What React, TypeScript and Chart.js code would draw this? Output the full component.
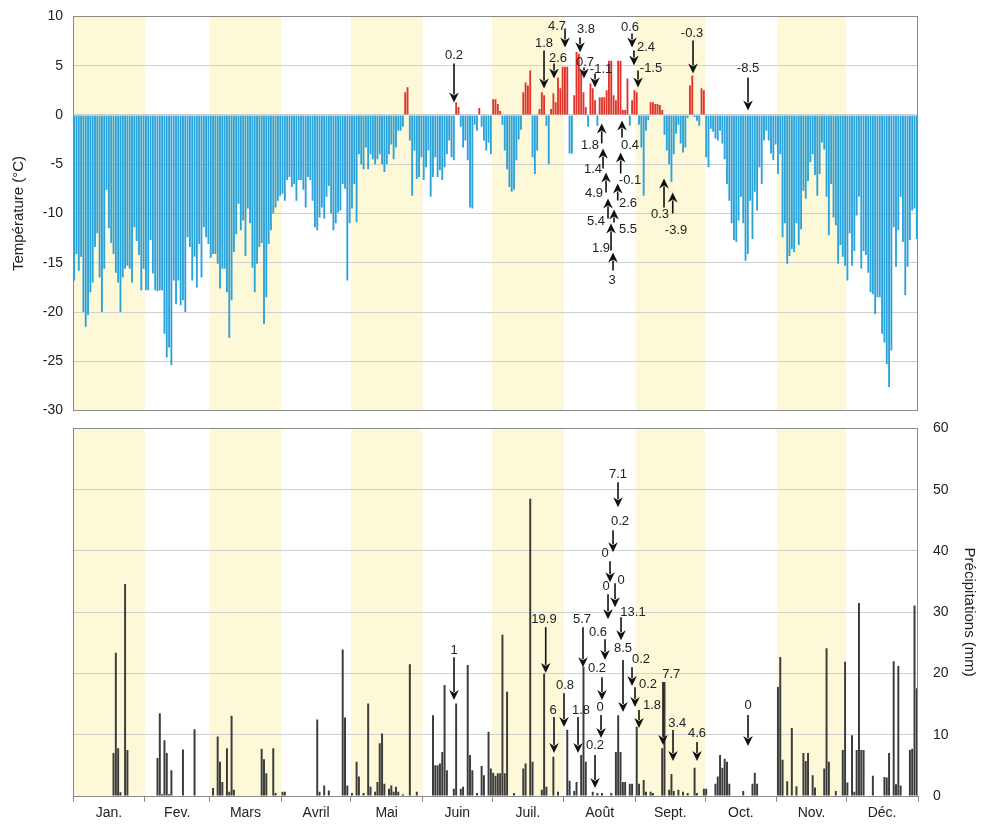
import React, { useEffect, useRef } from 'react';
import { Chart, registerables } from 'chart.js';

Chart.register(...registerables);

const FONT = '"Liberation Sans", Arial, sans-serif';
Chart.defaults.font.family = FONT;

const MONTHS = ['Jan.', 'Fev.', 'Mars', 'Avril', 'Mai', 'Juin', 'Juil.', 'Août', 'Sept.', 'Oct.', 'Nov.', 'Déc.'];
const MONTH_DAYS = [31, 28, 31, 30, 31, 30, 31, 31, 30, 31, 30, 31];
const SHADED = [true, false, true, false, true, false, true, false, true, false, true, false];

// Daily temperature (°C) per month
const tJan = [-16.8, -14.1, -15.8, -14.4, -20, -21.5, -20.3, -18, -17, -13.4, -12, -16.5, -20, -15.6, -7.6, -11.5, -13, -14.1, -16, -17, -20, -16.5, -15.6, -15.3, -15.6, -17, -11.4, -12.8, -14.2, -17.8, -15.6];
const tFeb = [-17.8, -17.8, -12.7, -16.1, -17.8, -17.9, -17.8, -17.8, -22.2, -24.6, -23.6, -25.4, -16.8, -19.2, -16.8, -19.3, -18.8, -20, -12.4, -13.4, -16.8, -14.4, -17.5, -13.1, -16.5, -11.4, -12.4, -13.1];
const tMar = [-14.5, -14.1, -14.1, -15.1, -17.6, -15.6, -15.6, -18, -22.6, -18.8, -13.9, -12.1, -9, -11.7, -10.7, -14.3, -9.5, -11, -15.5, -18, -15.1, -13.4, -13, -21.2, -18.5, -13.1, -11.7, -10, -9.4, -8.7, -8.2];
const tApr = [-8, -8.7, -6.6, -6.3, -7.3, -7, -8.7, -6.6, -6.6, -7.6, -9.4, -6.3, -6.6, -8.7, -11.4, -11.7, -10.4, -9.4, -10.5, -8.3, -7.2, -10, -11.7, -11, -9.9, -9.7, -7, -7.5, -16.8, -11];
const tMay = [-9.5, -7, -10.9, -4, -5, -5.5, -3.3, -5.5, -4, -4.5, -5, -4.5, -4, -5, -5.8, -5, -4, -3, -4.5, -3.3, -1.6, -1.6, -1.2, 2.3, 2.8, -2.6, -8.2, -3.6, -6.5, -6.3, -4.3];
const tJun = [-6.6, -5.3, -3.6, -8.3, -6.3, -4.3, -6.3, -5.6, -6.6, -5.3, -4, -2.6, -4.3, -4.6, 1.3, 0.8, -1.2, -3.3, -2.6, -4.6, -9.4, -9.5, -1, -1.6, 0.7, -1.2, -2.6, -3.6, -2.8, -4];
const tJul = [1.6, 1.6, 1.1, 0.4, -1, -3.6, -5.5, -7.3, -7.8, -7.6, -4.6, -2.5, -1.5, 2.3, 3.3, 3, 4.5, -4.3, -6, -3.6, 0.6, 2.3, 2, -1.1, -5, 0.6, 2.2, 1.3, 3.8, 2.7, 4.9];
const tAug = [4.9, 4.9, -3.9, -3.9, 2.0, 6.4, 6.2, 4.5, 2.3, 0.8, -1.2, 3.2, 2.7, 1.5, -1.1, 1.8, 1.8, 1.8, 2.5, 5.5, 5.5, 2, 1.5, 5.5, 5.5, 0.5, 0.5, 3.7, -1.1, 1.5, 2.5];
const tSep = [2.3, -1, -3.3, -8.2, -1.6, -0.5, 1.3, 1.3, 1.1, 1.1, 1, 0.5, -2, -3.6, -5, -6.8, -4, -1.9, -1, -2.9, -3.8, -3.3, -0.3, 3, 4, -0.2, -0.6, -1.1, 2.7, 2.5];
const tOct = [-4.3, -5.3, -1.4, -1.7, -2.4, -2.6, -1.6, -2.9, -4.5, -7, -8.7, -11, -12.7, -12.9, -10.7, -8.3, -11, -14.8, -14.1, -8.7, -12.6, -7.8, -9.7, -5.3, -7, -2.6, -1.6, -2.6, -3.9, -4.6, -3];
const tNov = [-6, -4, -12.4, -11, -15.1, -14.3, -13.6, -13.9, -11, -13.2, -11.6, -7.7, -8.5, -6.7, -4.8, -4, -6.1, -8.2, -6, -2.8, -3.5, -8.3, -12.2, -7, -10.4, -11.2, -15.1, -13.2, -14.4, -15.3];
const tDec = [-16.8, -12, -15.3, -13.8, -10.2, -8.3, -15.6, -13.8, -14.2, -16, -18, -18.2, -20.2, -18.5, -18.5, -22.2, -23.1, -25.3, -27.6, -23.9, -11.4, -15.4, -11.7, -8.3, -12.9, -18.3, -15.4, -12.7, -9.7, -9.5, -12.6];

// Daily precipitation (mm) per month
const pJan = [0, 0, 0, 0, 0, 0, 0, 0, 0, 0, 0, 0, 0, 0, 0, 0, 0, 7, 23.4, 7.8, 0.6, 0, 34.6, 7.5, 0, 0, 0, 0, 0, 0, 0];
const pFeb = [0, 0, 0, 0, 0, 6.2, 13.5, 0.3, 9.1, 7, 0.3, 4.2, 0, 0, 0, 0, 7.6, 0, 0, 0, 0, 10.9, 0, 0, 0, 0, 0, 0];
const pMar = [0, 1.3, 0, 9.7, 5.6, 2.3, 0, 7.8, 0.7, 13.1, 1, 0, 0, 0, 0, 0, 0, 0, 0, 0, 0, 0, 7.7, 6, 3.7, 0, 0, 7.8, 0.5, 0, 0];
const pApr = [0.7, 0.7, 0, 0, 0, 0, 0, 0, 0, 0, 0, 0, 0, 0, 0, 12.5, 0.7, 0, 1.7, 0, 0.9, 0, 0, 0, 0, 0, 23.9, 12.8, 1.7, 0];
const pMay = [0.5, 0, 5.6, 3.2, 0, 0.5, 0, 15.1, 1.5, 0, 0.7, 2.3, 8.6, 10.2, 2, 0, 1.2, 1.7, 0.7, 1.5, 0.7, 0, 0.3, 0, 0, 21.5, 0, 0, 0.7, 0, 0];
const pJun = [0, 0, 0, 0, 13.2, 5, 5, 5.3, 7.2, 18.1, 4.2, 0, 0, 1.2, 15.1, 0, 1.2, 1.5, 0, 21.4, 6.7, 4.2, 0, 0.5, 0, 4.9, 3.4, 0, 10.5, 4.5];
const pJul = [3.8, 3.3, 3.7, 3.7, 26.3, 3.7, 17, 0, 0, 0.5, 0, 0, 0, 4.5, 5.3, 0, 48.5, 5.6, 0, 0, 0, 1, 20, 1.5, 0, 0, 6.4, 0, 0.7, 0, 0];
const pAug = [0, 10.8, 2.5, 0, 0.8, 2.3, 0, 6.7, 21.1, 5.6, 0, 0, 0.7, 0, 0.5, 0, 0.5, 0, 0, 0, 0.5, 0, 7.2, 13.2, 7.2, 2.3, 2.3, 0, 2, 2, 0];
const pSep = [11.3, 2, 0, 2.6, 0.7, 0, 0.7, 0.5, 0, 0, 0, 7.8, 18.6, 0, 1, 3.6, 0.8, 0, 1, 0, 0.7, 0, 0.5, 0, 0, 4.6, 0.5, 0, 0, 1.2];
const pOct = [1.2, 0, 0, 0, 2, 3.2, 6.7, 4.6, 6.1, 5.6, 2, 0, 0, 0, 0, 0, 0.8, 0, 0, 0, 2, 3.8, 2, 0, 0, 0, 0, 0, 0, 0, 0];
const pNov = [17.8, 22.7, 5.9, 0, 2.4, 0, 11.1, 0, 1.6, 0, 0, 7, 5.7, 7, 0, 3.4, 1.4, 0, 0, 0, 4.5, 24.1, 5.6, 0, 0, 0.8, 0, 0, 7.5, 21.9];
const pDec = [2.2, 0, 9.9, 0.7, 7.5, 31.5, 7.5, 7.5, 0, 0, 0, 3.3, 0, 0, 0, 0, 3.1, 3, 7, 0, 22, 1.9, 21.2, 1.7, 0, 0, 0, 7.5, 7.7, 31.1, 17.6];

const TEMPERATURE = [...tJan, ...tFeb, ...tMar, ...tApr, ...tMay, ...tJun, ...tJul, ...tAug, ...tSep, ...tOct, ...tNov, ...tDec];
const PRECIP = [...pJan, ...pFeb, ...pMar, ...pApr, ...pMay, ...pJun, ...pJul, ...pAug, ...pSep, ...pOct, ...pNov, ...pDec];

// Annotation arrows: day (x), from (tail value), to (tip value), label and label anchor (day, value)
type Arrow = { day: number; from: number; to: number; label: string; lx: number; ly: number };

const TEMP_ARROWS: Arrow[] = [
  { day: 164.08, from: 5.23, to: 1.27, label: '0.2', lx: 164.08, ly: 6.04 },
  { day: 202.96, from: 6.55, to: 2.69, label: '1.8', lx: 202.96, ly: 7.26 },
  { day: 207.28, from: 5.23, to: 3.71, label: '2.6', lx: 209.0, ly: 5.74 },
  { day: 212.03, from: 8.78, to: 6.85, label: '4.7', lx: 208.57, ly: 8.98 },
  { day: 218.51, from: 7.87, to: 6.35, label: '3.8', lx: 221.1, ly: 8.68 },
  { day: 220.23, from: 4.82, to: 3.71, label: '0.7', lx: 220.66, ly: 5.33 },
  { day: 224.99, from: 4.21, to: 2.79, label: '-1.1', lx: 227.58, ly: 4.62 },
  { day: 240.97, from: 8.27, to: 6.85, label: '0.6', lx: 240.1, ly: 8.88 },
  { day: 241.83, from: 6.55, to: 5.03, label: '2.4', lx: 247.01, ly: 6.85 },
  { day: 243.56, from: 4.52, to: 2.79, label: '-1.5', lx: 249.17, ly: 4.72 },
  { day: 267.32, from: 7.56, to: 4.21, label: '-0.3', lx: 266.89, ly: 8.27 },
  { day: 291.08, from: 3.81, to: 0.46, label: '-8.5', lx: 291.08, ly: 4.72 },
  { day: 227.88, from: -2.89, to: -0.86, label: '1.8', lx: 222.83, ly: -3.1 },
  { day: 236.65, from: -2.28, to: -0.56, label: '0.4', lx: 240.1, ly: -3.1 },
  { day: 228.45, from: -5.43, to: -3.4, label: '1.4', lx: 224.12, ly: -5.53 },
  { day: 236.08, from: -5.94, to: -3.81, label: '-0.1', lx: 240.1, ly: -6.65 },
  { day: 229.75, from: -7.87, to: -5.84, label: '4.9', lx: 224.56, ly: -7.97 },
  { day: 234.79, from: -8.68, to: -6.95, label: '2.6', lx: 239.24, ly: -8.98 },
  { day: 230.6, from: -10.51, to: -8.48, label: '5.4', lx: 225.42, ly: -10.81 },
  { day: 233.2, from: -10.91, to: -9.59, label: '5.5', lx: 239.24, ly: -11.62 },
  { day: 231.9, from: -13.76, to: -11.02, label: '1.9', lx: 227.58, ly: -13.55 },
  { day: 232.76, from: -15.79, to: -13.96, label: '3', lx: 232.33, ly: -16.8 },
  { day: 254.79, from: -9.39, to: -6.45, label: '0.3', lx: 253.06, ly: -10.1 },
  { day: 258.55, from: -10.0, to: -7.87, label: '-3.9', lx: 259.98, ly: -11.73 },
];

const PRECIP_ARROWS: Arrow[] = [
  { day: 164.08, from: 22.66, to: 15.65, label: '1', lx: 164.08, ly: 23.81 },
  { day: 203.69, from: 27.56, to: 20.06, label: '19.9', lx: 202.96, ly: 28.86 },
  { day: 219.8, from: 27.56, to: 21.03, label: '5.7', lx: 219.37, ly: 28.86 },
  { day: 207.28, from: 12.88, to: 7.01, label: '6', lx: 206.84, ly: 14.02 },
  { day: 211.6, from: 16.79, to: 11.25, label: '0.8', lx: 212.03, ly: 18.1 },
  { day: 217.64, from: 12.88, to: 7.01, label: '1.8', lx: 218.94, ly: 14.02 },
  { day: 229.31, from: 25.6, to: 22.18, label: '0.6', lx: 226.28, ly: 26.74 },
  { day: 228.0, from: 19.4, to: 15.65, label: '0.2', lx: 225.85, ly: 20.87 },
  { day: 227.58, from: 13.21, to: 9.46, label: '0', lx: 227.15, ly: 14.51 },
  { day: 224.99, from: 6.69, to: 1.3, label: '0.2', lx: 224.99, ly: 8.32 },
  { day: 237.08, from: 22.18, to: 13.7, label: '8.5', lx: 237.08, ly: 24.13 },
  { day: 236.22, from: 29.19, to: 25.44, label: '13.1', lx: 241.4, ly: 30.0 },
  { day: 234.92, from: 51.2, to: 47.12, label: '7.1', lx: 234.92, ly: 52.5 },
  { day: 232.76, from: 43.37, to: 39.78, label: '0.2', lx: 235.79, ly: 44.84 },
  { day: 231.47, from: 38.32, to: 34.89, label: '0', lx: 229.31, ly: 39.62 },
  { day: 233.63, from: 34.73, to: 30.82, label: '0', lx: 236.22, ly: 35.22 },
  { day: 230.6, from: 32.94, to: 28.86, label: '0', lx: 229.74, ly: 34.24 },
  { day: 240.97, from: 21.03, to: 17.94, label: '0.2', lx: 244.86, ly: 22.34 },
  { day: 242.26, from: 17.77, to: 14.51, label: '0.2', lx: 247.88, ly: 18.26 },
  { day: 243.99, from: 14.02, to: 11.09, label: '1.8', lx: 249.61, ly: 14.84 },
  { day: 254.36, from: 18.59, to: 8.32, label: '7.7', lx: 257.92, ly: 19.89 },
  { day: 258.68, from: 10.76, to: 5.71, label: '3.4', lx: 260.49, ly: 11.9 },
  { day: 269.05, from: 8.8, to: 5.71, label: '4.6', lx: 269.05, ly: 10.27 },
  { day: 291.08, from: 13.21, to: 8.15, label: '0', lx: 291.08, ly: 14.84 },
];

const BLUE = '#2aa2da';
const RED = '#e2332a';
const DARK = '#3b3b3b';
const BAND = '#fcf8d8';
const GRID = '#cfcfcf';
const FRAME = '#8a8a8a';
const TEXT = '#222222';

const MONTH_STARTS = MONTH_DAYS.reduce<number[]>((acc, n, i) => {
  acc.push(i === 0 ? 0 : acc[i - 1] + MONTH_DAYS[i - 1]);
  return acc;
}, []);
const BOUNDARIES = [...MONTH_STARTS.map((s) => s - 0.5), 364.5];
const CENTERS = MONTH_STARTS.map((s, i) => s + MONTH_DAYS[i] / 2 - 0.5);

const bandsPlugin = {
  id: 'bands',
  beforeDraw(chart: any) {
    const { ctx, chartArea, scales } = chart;
    const x = scales.x;
    ctx.save();
    ctx.fillStyle = BAND;
    MONTH_STARTS.forEach((s, m) => {
      if (!SHADED[m]) return;
      const x0 = x.getPixelForValue(s - 0.5);
      const x1 = x.getPixelForValue(s + MONTH_DAYS[m] - 0.5);
      ctx.fillRect(x0, chartArea.top, x1 - x0, chartArea.bottom - chartArea.top);
    });
    ctx.restore();
  },
};

const framePlugin = {
  id: 'frame',
  afterDraw(chart: any) {
    const { ctx, chartArea } = chart;
    ctx.save();
    ctx.strokeStyle = FRAME;
    ctx.lineWidth = 1;
    ctx.strokeRect(
      Math.round(chartArea.left) + 0.5,
      Math.round(chartArea.top) + 0.5,
      Math.round(chartArea.right - chartArea.left) - 1,
      Math.round(chartArea.bottom - chartArea.top)
    );
    ctx.restore();
  },
};

function makeArrowPlugin(items: Arrow[], yId: string) {
  return {
    id: 'arrows-' + yId,
    afterDatasetsDraw(chart: any) {
      const { ctx, scales } = chart;
      const xs = scales.x;
      const ys = scales[yId];
      ctx.save();
      ctx.strokeStyle = '#111';
      ctx.fillStyle = '#111';
      ctx.lineWidth = 1.6;
      items.forEach((a) => {
        const x = xs.getPixelForValue(a.day);
        const y1 = ys.getPixelForValue(a.from);
        const y2 = ys.getPixelForValue(a.to);
        const dir = y2 > y1 ? 1 : -1;
        const head = 10;
        ctx.beginPath();
        ctx.moveTo(x, y1);
        ctx.lineTo(x, y2 - dir * (head - 2));
        ctx.stroke();
        ctx.beginPath();
        ctx.moveTo(x, y2);
        ctx.lineTo(x - 4.8, y2 - dir * head);
        ctx.lineTo(x, y2 - dir * (head - 3));
        ctx.lineTo(x + 4.8, y2 - dir * head);
        ctx.closePath();
        ctx.fill();
      });
      ctx.fillStyle = TEXT;
      ctx.font = '13px ' + FONT;
      ctx.textAlign = 'center';
      ctx.textBaseline = 'middle';
      items.forEach((a) => {
        ctx.fillText(a.label, xs.getPixelForValue(a.lx), ys.getPixelForValue(a.ly));
      });
      ctx.restore();
    },
  };
}

export default function App() {
  const topRef = useRef<HTMLCanvasElement | null>(null);
  const botRef = useRef<HTMLCanvasElement | null>(null);

  useEffect(() => {
    const tickFont = { size: 14, family: FONT };
    const top = new Chart(topRef.current as HTMLCanvasElement, {
      type: 'bar',
      data: {
        datasets: [
          {
            data: TEMPERATURE.map((v, i) => ({ x: i, y: v })),
            backgroundColor: TEMPERATURE.map((v) => (v > 0 ? RED : BLUE)),
            barPercentage: 0.8,
            categoryPercentage: 1,
            borderWidth: 0,
          } as any,
        ],
      },
      options: {
        responsive: false,
        animation: false,
        layout: { padding: { left: 0, right: 64, top: 14, bottom: 1 } },
        plugins: { legend: { display: false }, tooltip: { enabled: false } },
        scales: {
          x: {
            type: 'linear',
            min: -0.5,
            max: 364.5,
            offset: false,
            display: false,
            grid: { offset: false },
          },
          y: {
            min: -30,
            max: 10,
            ticks: { stepSize: 5, font: tickFont, color: TEXT, padding: 10 },
            grid: { color: GRID, drawTicks: false },
            border: { display: false },
            title: {
              display: true,
              text: 'Température (°C)',
              font: { size: 15, family: FONT },
              color: TEXT,
              padding: { top: 10, bottom: 0 },
            },
            afterFit: (s: any) => {
              s.width = 73;
            },
          },
        },
      } as any,
      plugins: [bandsPlugin, framePlugin, makeArrowPlugin(TEMP_ARROWS, 'y')],
    });

    const isBoundary = (v: number) => BOUNDARIES.some((b) => Math.abs(b - v) < 1e-6);
    const bottom = new Chart(botRef.current as HTMLCanvasElement, {
      type: 'bar',
      data: {
        datasets: [
          {
            data: PRECIP.map((v, i) => ({ x: i, y: v })),
            backgroundColor: DARK,
            barPercentage: 0.85,
            categoryPercentage: 1,
            borderWidth: 0,
            yAxisID: 'y',
          } as any,
        ],
      },
      options: {
        responsive: false,
        animation: false,
        layout: { padding: { left: 73, right: 0, top: 8, bottom: 0 } },
        plugins: { legend: { display: false }, tooltip: { enabled: false } },
        scales: {
          x: {
            type: 'linear',
            min: -0.5,
            max: 364.5,
            offset: false,
            border: { display: false },
            grid: {
              offset: false,
              drawOnChartArea: false,
              drawTicks: true,
              tickLength: 6,
              color: (c: any) => (c.tick && isBoundary(c.tick.value) ? FRAME : 'rgba(0,0,0,0)'),
              tickColor: (c: any) => (c.tick && isBoundary(c.tick.value) ? FRAME : 'rgba(0,0,0,0)'),
            },
            ticks: {
              autoSkip: false,
              maxRotation: 0,
              minRotation: 0,
              padding: 3,
              font: tickFont,
              color: TEXT,
              callback: (v: any) => {
                const idx = CENTERS.findIndex((c) => Math.abs(c - v) < 1e-6);
                return idx >= 0 ? MONTHS[idx] : '';
              },
            },
            afterBuildTicks: (axis: any) => {
              axis.ticks = [...BOUNDARIES, ...CENTERS].sort((a, b) => a - b).map((v) => ({ value: v }));
            },
            afterFit: (s: any) => {
              s.height = 29;
            },
          },
          y: {
            position: 'right',
            min: 0,
            max: 60,
            ticks: { stepSize: 10, font: tickFont, color: TEXT, padding: 15 },
            grid: { color: GRID, drawTicks: false },
            border: { display: false },
            title: {
              display: true,
              text: 'Précipitations (mm)',
              font: { size: 15, family: FONT },
              color: TEXT,
              padding: { top: 4, bottom: 0 },
            },
            afterFit: (s: any) => {
              s.width = 64;
            },
          },
        },
      } as any,
      plugins: [bandsPlugin, framePlugin, makeArrowPlugin(PRECIP_ARROWS, 'y')],
    });

    return () => {
      top.destroy();
      bottom.destroy();
    };
  }, []);

  return (
    <div style={{ position: 'absolute', left: 0, top: 0, width: 982, height: 825, background: '#fff' }}>
      <canvas ref={topRef} width={982} height={431} style={{ position: 'absolute', left: 0, top: -2 }} />
      <canvas ref={botRef} width={982} height={420} style={{ position: 'absolute', left: 0, top: 405 }} />
    </div>
  );
}
